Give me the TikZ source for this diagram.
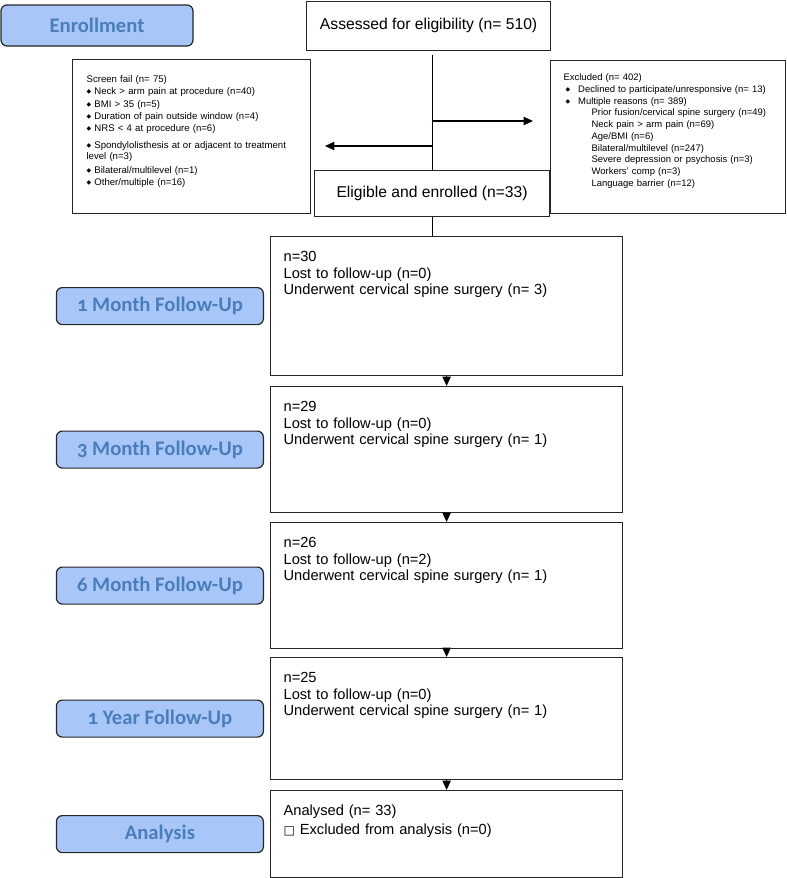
\documentclass[tikz,border=0pt]{standalone}
\usepackage{fontspec}
\setmainfont{Liberation Sans}
\newfontfamily\stagefont[Numbers=OldStyle]{Carlito}
\newfontfamily\symfont{DejaVu Sans}
\usepackage{xcolor}
\usepackage{tikz}
\usetikzlibrary{positioning}
\usetikzlibrary{arrows.meta}

\definecolor{stagefill}{RGB}{168,198,248}
\definecolor{stagetext}{RGB}{74,126,187}

\newcommand{\dia}{{\symfont\fontsize{4.5}{5}\selectfont\raisebox{0.8pt}{◆}}}

\begin{document}
\begin{tikzpicture}[
    x = .75pt,
    y = -.75pt,
    font = \fontsize{11}{12.5}\selectfont,
    stage/.style = {
      rectangle,
      draw=black!85,
      rounded corners=4.5pt,
      fill=stagefill,
      text=stagetext,
      font=\stagefont\bfseries\fontsize{15.5}{18}\selectfont,
      line width=.9pt,
      minimum width=155.25pt,
      minimum height=27.75pt
    },
    flowbox/.style = {
      rectangle,
      draw=black!85,
      line width=.9pt,
      anchor=north west,
      font=\fontsize{11.75}{14}\selectfont
    },
    notebox/.style = {
      rectangle,
      draw=black!85,
      line width=.9pt,
      anchor=north west,
      align=left,
      inner ysep=0pt,
      font=\fontsize{7.2}{9.2}\selectfont
    },
    fubox/.style = {
      rectangle,
      draw=black!85,
      line width=.9pt,
      anchor=north west,
      align=left,
      inner xsep=9.75pt,
      inner ysep=0pt,
      text width=244.5pt,
      text height=18.75pt,
      text depth=#1
    },
    flowarrow/.style = {
      line width=.9pt,
      -{Triangle[length=7pt,width=6.2pt]}
    }
  ]
    \useasboundingbox (0,0) rectangle (787,878);

    \node[stage, minimum width=144pt, minimum height=30.75pt] (enrol) at (97,25.5) {Enrollment};

    \node[flowbox, minimum width=183pt, minimum height=36.75pt] (assess) at (306,0.5) {Assessed for eligibility (n= 510)};
    \node[flowbox, minimum width=176.25pt, minimum height=34.5pt] (elig) at (314,170) {Eligible and enrolled (n=33)};

    \node[notebox, inner xsep=10.5pt, text width=157.5pt, text height=17.25pt, text depth=98.25pt] (fail) at (72,59) {%
      Screen fail (n= 75)\\
      \dia\ Neck > arm pain at procedure (n=40)\\
      \dia\ BMI > 35 (n=5)\\
      \dia\ Duration of pain outside window (n=4)\\
      \dia\ NRS < 4 at procedure (n=6)\\[3.5pt]
      \dia\ Spondylolisthesis at or adjacent to treatment\\[-1pt]
      level (n=3)\\[1.2pt]
      \dia\ Bilateral/multilevel (n=1)\\
      \dia\ Other/multiple (n=16)};

    \node[notebox, inner xsep=9.75pt, text width=156.75pt, text height=15pt, text depth=99.75pt, font=\fontsize{7.1}{8.8}\selectfont] (excl) at (550,60) {%
      Excluded (n= 402)\\
      \hspace*{1.5pt}\dia\hspace{6pt}Declined to participate/unresponsive (n= 13)\\
      \hspace*{1.5pt}\dia\hspace{6pt}Multiple reasons (n= 389)\\
      \hspace*{21pt}Prior fusion/cervical spine surgery (n=49)\\
      \hspace*{21pt}Neck pain > arm pain (n=69)\\
      \hspace*{21pt}Age/BMI (n=6)\\
      \hspace*{21pt}Bilateral/multilevel (n=247)\\
      \hspace*{21pt}Severe depression or psychosis (n=3)\\
      \hspace*{21pt}Workers’ comp (n=3)\\
      \hspace*{21pt}Language barrier (n=12)};

    \node[fubox=85.5pt] (fu1) at (270,236) {n=30\\Lost to follow-up (n=0)\\Underwent cervical spine surgery (n= 3)};
    \node[fubox=75.75pt] (fu2) at (270,386) {n=29\\Lost to follow-up (n=0)\\Underwent cervical spine surgery (n= 1)};
    \node[fubox=75.75pt] (fu3) at (270,522) {n=26\\Lost to follow-up (n=2)\\Underwent cervical spine surgery (n= 1)};
    \node[fubox=72.75pt] (fu4) at (270,657) {n=25\\Lost to follow-up (n=0)\\Underwent cervical spine surgery (n= 1)};
    \node[fubox=46.5pt] (anl) at (270,790) {Analysed (n= 33)\\[1.4pt]{\symfont\fontsize{9}{10}\selectfont □} Excluded from analysis (n=0)};

    \node[stage, left=4.5pt of fu1] (m1) {1 Month Follow-Up};
    \node[stage, left=4.5pt of fu2] (m3) {3 Month Follow-Up};
    \node[stage, left=4.5pt of fu3] (m6) {6 Month Follow-Up};
    \node[stage, left=4.5pt of fu4] (y1) {1 Year Follow-Up};
    \node[stage, left=4.5pt of anl] (ana) {Analysis};

    \coordinate (jR) at (431.5,121);
    \coordinate (jL) at (431.5,146);
    \coordinate (toexcl) at (533,121);
    \coordinate (tofail) at (325,146);

    \draw[line width=.9pt] ([yshift=-3pt]assess.south -| elig.north) -- (elig.north);
    \draw[flowarrow] (jR) -- (toexcl);
    \draw[flowarrow] (jL) -- (tofail);
    \draw[line width=.9pt] (elig.south) -- (elig.south |- fu1.north);
    \draw[flowarrow] (fu1.south) -- (fu2.north);
    \draw[flowarrow] (fu2.south) -- (fu3.north);
    \draw[flowarrow] (fu3.south) -- (fu4.north);
    \draw[flowarrow] (fu4.south) -- (anl.north);
  \end{tikzpicture}
\end{document}
